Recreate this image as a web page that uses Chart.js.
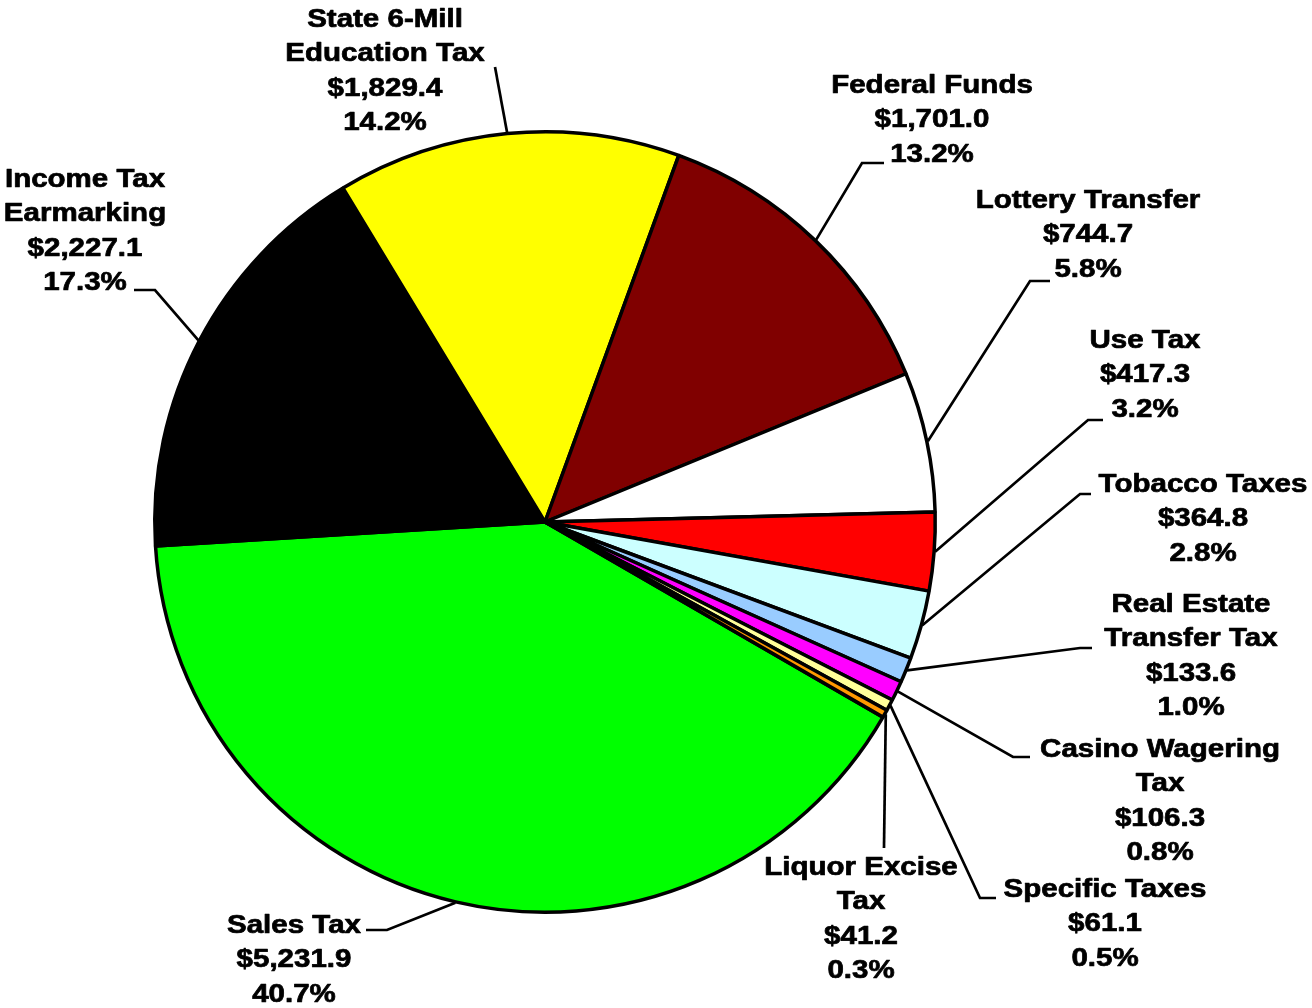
<!DOCTYPE html>
<html>
<head>
<meta charset="utf-8">
<script src="https://cdn.jsdelivr.net/npm/chart.js@4"></script>
<style>
  html,body{margin:0;padding:0;background:#fff;}
  #wrap{width:1312px;height:1008px;position:relative;}
</style>
</head>
<body>
<div id="wrap"><canvas id="pie"></canvas></div>
<script>
// ── DATA ─────────────────────────────
const CATEGORIES = [
  ['Sales Tax'],
  ['Income Tax','Earmarking'],
  ['State 6-Mill','Education Tax'],
  ['Federal Funds'],
  ['Lottery Transfer'],
  ['Use Tax'],
  ['Tobacco Taxes'],
  ['Real Estate','Transfer Tax'],
  ['Casino Wagering','Tax'],
  ['Specific Taxes'],
  ['Liquor Excise','Tax']
];
const AMOUNTS = [5231.9, 2227.1, 1829.4, 1701.0, 744.7, 417.3, 364.8, 133.6, 106.3, 61.1, 41.2];
const COLORS  = ['#00FF00','#000000','#FFFF00','#800000','#FFFFFF','#FF0000',
                 '#CCFFFF','#99CCFF','#FF00FF','#FFFF99','#FF9900'];

// label block: centre x, first baseline y, leader points (label side, in order from slice outward)
const LABEL_POS = [
  {x:294,  y:933, leg:[[387,930],[366,930]]},
  {x:85,   y:187, leg:[[155,290],[134,290]]},
  {x:385,  y:27,  leg:[[495,67]]},
  {x:932,  y:93,  leg:[[862,163],[884,163]]},
  {x:1088, y:208, leg:[[1030,281],[1050,281]]},
  {x:1145, y:348, leg:[[1088,420],[1103,420]]},
  {x:1203, y:492, leg:[[1080,494],[1091,494]]},
  {x:1191, y:612, leg:[[1080,648],[1092,648]]},
  {x:1160, y:757, leg:[[1013,757],[1030,757]]},
  {x:1105, y:897, leg:[[980,898],[996,898]]},
  {x:861,  y:875, leg:[[884,848]]}
];

const TOTAL = AMOUNTS.reduce((a,b)=>a+b,0);
const fmt = n => '$' + n.toLocaleString('en-US',{minimumFractionDigits:1,maximumFractionDigits:1});
const pct = n => (n/TOTAL*100).toFixed(1) + '%';

const FONT    = 'bold 25px "Liberation Sans", Arial, sans-serif';
const STRETCH = 1.18;
const LINE_H  = 34.4;

// ── LABELS + LEADERS ─────────────────
const pieLabels = {
  id:'pieLabels',
  afterDatasetsDraw(chart){
    const ctx = chart.ctx;
    const arcs = chart.getDatasetMeta(0).data;
    ctx.save();
    ctx.strokeStyle = '#000';
    ctx.lineWidth = 2.7;
    ctx.lineJoin = 'miter';
    arcs.forEach((arc, i) => {
      const p = arc.getProps(['x','y','startAngle','endAngle','outerRadius'], true);
      const mid = (p.startAngle + p.endAngle) / 2;
      const r = p.outerRadius + 1;
      ctx.beginPath();
      ctx.moveTo(p.x + Math.cos(mid) * r, p.y + Math.sin(mid) * r);
      LABEL_POS[i].leg.forEach(pt => ctx.lineTo(pt[0], pt[1]));
      ctx.stroke();
    });

    ctx.fillStyle = '#000';
    ctx.font = FONT;
    ctx.textAlign = 'center';
    ctx.textBaseline = 'alphabetic';
    ctx.lineWidth = 0.7;
    ctx.lineJoin = 'round';
    CATEGORIES.forEach((name, i) => {
      const lines = [...name, fmt(AMOUNTS[i]), pct(AMOUNTS[i])];
      const lp = LABEL_POS[i];
      lines.forEach((t, k) => {
        ctx.save();
        ctx.translate(lp.x, lp.y + k * LINE_H);
        ctx.scale(STRETCH, 1);
        ctx.fillText(t, 0, 0);
        ctx.strokeText(t, 0, 0);
        ctx.restore();
      });
    });
    ctx.restore();
  }
};

new Chart(document.getElementById('pie'), {
  type:'pie',
  data:{
    labels: CATEGORIES,
    datasets:[{
      data: AMOUNTS,
      backgroundColor: COLORS,
      borderColor:'#000',
      borderWidth:3.5
    }]
  },
  options:{
    responsive:true, maintainAspectRatio:false, animation:false,
    rotation:120,
    layout:{padding:{left:153, top:130, right:375, bottom:94}},
    plugins:{legend:{display:false}, tooltip:{enabled:false}}
  },
  plugins:[pieLabels]
});
</script>
</body>
</html>
